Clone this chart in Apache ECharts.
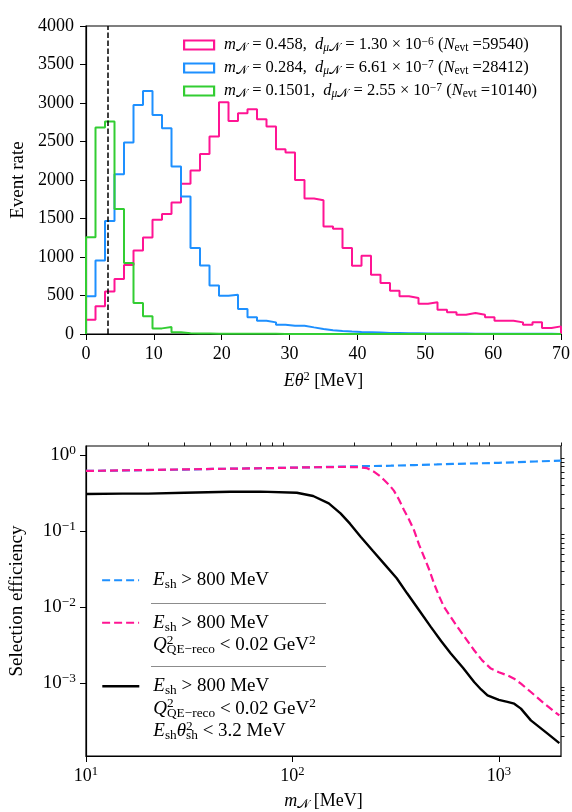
<!DOCTYPE html>
<html>
<head>
<meta charset="utf-8">
<script src="https://cdn.jsdelivr.net/npm/echarts@6/dist/echarts.min.js"></script>
<style>html,body{margin:0;padding:0;background:#fff}#c{width:572px;height:812px}</style>
</head>
<body>
<div id="c"></div>
<script>
// ---------- top panel: step histograms of E*theta^2 ----------
const BIN_WIDTH = 1.4;            // MeV
const CUT_E_THETA2 = 3.2;         // MeV, dashed vertical line
const histNames = ['m0458', 'm0284', 'm01501'];
const histColors = ['#ff1493', '#1e90ff', '#32cd32'];
const histMass = ['0.458', '0.284', '0.1501'];
const histDMant = ['1.30', '6.61', '2.55'];
const histDExp = ['−6', '−7', '−7'];
const histNevt = ['59540', '28412', '10140'];

const pinkCounts = [186, 359, 553, 715, 895, 1085, 1254, 1483, 1557, 1708,
  1950, 2123, 2339, 2564, 3009, 2767, 2867, 2919, 2789, 2694,
  2400, 2357, 2000, 1760, 1738, 1397, 1366, 1116, 886, 1016,
  770, 662, 562, 489, 467, 393, 411, 316, 281, 251,
  272, 251, 216, 173, 173, 151, 121, 151, 78, 99];
const blueCounts = [489, 956, 1466, 2076, 2486, 2975, 3157, 2845, 2672, 2175,
  1786, 1116, 891, 631, 497, 510, 324, 216, 173, 151,
  121, 108, 108, 86, 65, 50, 40, 32, 26, 22,
  18, 14, 12, 10, 9, 8, 7, 6, 5, 5,
  4, 4, 3, 3, 3, 2, 2, 2, 2, 1];
const greenCounts = [1258, 2681, 2759, 1622, 921, 402, 229, 73, 91, 22,
  9, 6, 5, 4, 3, 3, 2, 2, 2, 2,
  1, 1, 1, 1, 1, 1, 1, 1, 1, 1,
  1, 0, 0, 0, 0, 0, 0, 0, 0, 0,
  0, 0, 0, 0, 0, 0, 0, 0, 0, 0];
const histCounts = [pinkCounts, blueCounts, greenCounts];

const topXMin = 0, topXMax = 70, topXInterval = 10;
const topYMin = 0, topYMax = 4000, topYInterval = 500;

// ---------- bottom panel: selection efficiency vs mass ----------
const effNames = ['cutE', 'cutEQ', 'cutEQT'];
const effColors = ['#1e90ff', '#ff1493', '#000000'];
const massBlue = [10, 15, 20, 30, 41, 60, 80, 126, 207, 300, 388, 500, 600, 818, 1000, 1200, 1500, 2000];
const effBlue = [0.616, 0.625, 0.632, 0.643, 0.654, 0.665, 0.672, 0.689, 0.71, 0.722, 0.735, 0.75, 0.762, 0.777, 0.788, 0.80, 0.82, 0.842];
const massPink = [10, 20, 41, 80, 126, 180, 210, 230, 248, 265, 278, 295, 310, 328, 347, 368, 388, 410, 434, 460, 485, 512, 542, 585, 630, 690, 759, 830, 915, 1000, 1101, 1186, 1279, 1429, 1650, 1963];
const effPink = [0.616, 0.635, 0.654, 0.672, 0.689, 0.695, 0.69, 0.67, 0.603, 0.53, 0.469, 0.40, 0.34, 0.26, 0.189, 0.14, 0.103, 0.067, 0.0459, 0.031, 0.0205, 0.0142, 0.0101, 0.0074, 0.0055, 0.0039, 0.00272, 0.0020, 0.00156, 0.0014, 0.00127, 0.00115, 0.00099, 0.000769, 0.00055, 0.000379];
const massBlack = [10, 15, 20, 30, 50, 70, 105, 126, 150, 171, 190, 214, 245, 277, 320, 360, 410, 468, 525, 585, 670, 759, 820, 881, 1000, 1100, 1187, 1279, 1429, 1722, 1963];
const effBlack = [0.307, 0.31, 0.31, 0.318, 0.329, 0.33, 0.319, 0.289, 0.231, 0.171, 0.125, 0.0841, 0.055, 0.0376, 0.024, 0.0151, 0.0092, 0.00551, 0.0036, 0.00246, 0.0016, 0.00104, 0.00083, 0.000695, 0.000605, 0.00057, 0.00054, 0.000465, 0.000326, 0.000218, 0.000164];
const effMass = [massBlue, massPink, massBlack];
const effVals = [effBlue, effPink, effBlack];

const botXMin = 10, botXMax = 2000;
const botYMin = 1.11e-4, botYMax = 1.31;
const botXMajor = [10, 100, 1000];
const botXMinor = [20, 30, 40, 50, 60, 70, 80, 90, 200, 300, 400, 500, 600, 700, 800, 900, 2000];
const botYMajor = [0.001, 0.01, 0.1, 1];
const botYMinor = [2e-4, 3e-4, 4e-4, 5e-4, 6e-4, 7e-4, 8e-4, 9e-4,
  2e-3, 3e-3, 4e-3, 5e-3, 6e-3, 7e-3, 8e-3, 9e-3,
  2e-2, 3e-2, 4e-2, 5e-2, 6e-2, 7e-2, 8e-2, 9e-2,
  0.2, 0.3, 0.4, 0.5, 0.6, 0.7, 0.8, 0.9];

// ---------- helpers ----------
const F = 'Liberation Serif';
const CALN = '𝒩';
function richSet(size, lh) {
  const sub = Math.round(size * 0.7 * 10) / 10;
  return {
    i: {fontFamily: F, fontStyle: 'italic', fontSize: size, lineHeight: lh},
    n: {fontFamily: F, fontSize: size, lineHeight: lh},
    s: {fontFamily: F, fontSize: sub, lineHeight: lh, verticalAlign: 'bottom'},
    si: {fontFamily: F, fontStyle: 'italic', fontSize: sub, lineHeight: lh, verticalAlign: 'bottom'},
    p: {fontFamily: F, fontSize: sub, lineHeight: lh, verticalAlign: 'top'},
    pz: {fontFamily: F, fontSize: sub, lineHeight: lh, verticalAlign: 'top', width: 0}
  };
}
function stepData(counts) {
  const d = [[topXMin, 0]];
  counts.forEach((v, i) => d.push([topXMin + i * BIN_WIDTH, v]));
  d.push([topXMin + counts.length * BIN_WIDTH, 0]);
  return d;
}
function pairs(xs, ys) { return xs.map((x, i) => [x, ys[i]]); }
function sci(v) {
  const e = Math.round(Math.log10(v));
  return '{n|10}{p|' + String(e).replace('-', '−') + '}';
}

const topLegendText = {};
histNames.forEach((n, i) => {
  topLegendText[n] = '{i|m}{s|' + CALN + '} = ' + histMass[i] + ',  {i|d}{si|μ}{s|' + CALN + '} = ' +
    histDMant[i] + ' × 10{p|' + histDExp[i] + '} ({i|N}{s|evt} =' + histNevt[i] + ')';
});
const line1 = '{i|E}{s|sh} > 800 MeV';
const line2 = '{i|Q}{pz|2}{s|QE−reco} < 0.02 GeV{p|2}';
const line3 = '{i|E}{s|sh}{i|θ}{pz|2}{s|sh} < 3.2 MeV';
const botLegendText = {
  cutE: line1,
  cutEQ: line1 + '\n' + line2,
  cutEQT: line1 + '\n' + line2 + '\n' + line3
};

const axisCommon = {
  axisLine: {show: true, lineStyle: {color: '#000', width: 1.2}},
  axisTick: {show: true, inside: false, length: 6, lineStyle: {color: '#000', width: 1}},
  splitLine: {show: false},
  minorTick: {show: false},
  minorSplitLine: {show: false}
};
const tickLabel = {color: '#000', fontFamily: F, fontSize: 18};
const plain = v => String(v);

const BOT_LH = 22.5;
const BOT_FS = 19;
const botLegendTops = [569, 589, 630];

const option = {
  animation: false,
  backgroundColor: '#fff',
  textStyle: {fontFamily: F},
  grid: [
    {left: 86, top: 26, width: 475, height: 308, show: true, borderColor: '#000', borderWidth: 1.2,
     backgroundColor: 'transparent', containLabel: false, outerBoundsMode: 'none'},
    {left: 86, top: 446, width: 475, height: 310, show: true, borderColor: '#000', borderWidth: 1.2,
     backgroundColor: 'transparent', containLabel: false, outerBoundsMode: 'none'}
  ],
  xAxis: [
    Object.assign({}, axisCommon, {
      gridIndex: 0, type: 'value', min: topXMin, max: topXMax, interval: topXInterval,
      axisLabel: Object.assign({margin: 11, formatter: plain}, tickLabel),
      name: '{i|Eθ}{p|2} [MeV]', nameLocation: 'middle', nameGap: 36,
      nameTextStyle: {color: '#000', fontFamily: F, fontSize: 18, rich: richSet(18, 22)}
    }),
    Object.assign({}, axisCommon, {
      gridIndex: 1, type: 'log', logBase: 10, min: botXMin, max: botXMax,
      axisTick: {show: true, inside: false, length: 6, lineStyle: {color: '#000', width: 1}, customValues: botXMajor},
      axisLabel: Object.assign({margin: 9, customValues: botXMajor, formatter: sci, rich: richSet(18, 22)}, tickLabel),
      name: '{i|m}{s|' + CALN + '} [MeV]', nameLocation: 'middle', nameGap: 35,
      nameTextStyle: {color: '#000', fontFamily: F, fontSize: 18, rich: richSet(18, 20)}
    }),
    {
      gridIndex: 1, type: 'log', logBase: 10, min: botXMin, max: botXMax,
      axisLine: {show: false}, splitLine: {show: false}, axisLabel: {show: false},
      axisTick: {show: true, inside: false, length: 3.5, lineStyle: {color: '#000', width: 0.9}, customValues: botXMinor}
    }
  ],
  yAxis: [
    Object.assign({}, axisCommon, {
      gridIndex: 0, type: 'value', min: topYMin, max: topYMax, interval: topYInterval,
      axisLabel: Object.assign({margin: 12, formatter: plain}, tickLabel),
      name: 'Event rate', nameLocation: 'middle', nameGap: 56,
      nameTextStyle: {color: '#000', fontFamily: F, fontSize: 19}
    }),
    Object.assign({}, axisCommon, {
      gridIndex: 1, type: 'log', logBase: 10, min: botYMin, max: botYMax,
      axisTick: {show: true, inside: false, length: 6, lineStyle: {color: '#000', width: 1}, customValues: botYMajor},
      axisLabel: Object.assign({margin: 10, customValues: botYMajor, formatter: sci, rich: richSet(19, 22)}, tickLabel),
      name: 'Selection efficiency', nameLocation: 'middle', nameGap: 59,
      nameTextStyle: {color: '#000', fontFamily: F, fontSize: 19}
    }),
    {
      gridIndex: 1, type: 'log', logBase: 10, min: botYMin, max: botYMax,
      axisLine: {show: false}, splitLine: {show: false}, axisLabel: {show: false},
      axisTick: {show: true, inside: false, length: 3.5, lineStyle: {color: '#000', width: 0.9}, customValues: botYMinor}
    }
  ],
  legend: [
    {
      left: 183, top: 36, orient: 'vertical', padding: 0, itemGap: 5,
      itemWidth: 30, itemHeight: 9, selectedMode: false,
      data: histNames.map((n, i) => ({
        name: n, icon: 'rect',
        itemStyle: {color: 'rgba(0,0,0,0)', borderColor: histColors[i], borderWidth: 2.2}
      })),
      formatter: n => topLegendText[n],
      textStyle: {color: '#000', fontFamily: F, fontSize: 16.5, lineHeight: 18, padding: [0, 0, 0, 5], rich: richSet(16.5, 18)}
    }
  ].concat(effNames.map((n, i) => ({
    left: 101, top: botLegendTops[i], orient: 'vertical', padding: 0,
    itemWidth: 37, itemHeight: 14, selectedMode: false,
    data: [{name: n, itemStyle: {opacity: 0}}],
    lineStyle: {width: i === 2 ? 2.6 : 2.2},
    formatter: nm => botLegendText[nm],
    textStyle: {color: '#000', fontFamily: F, fontSize: BOT_FS, lineHeight: BOT_LH,
      padding: [i * BOT_LH, 0, 0, 9], rich: richSet(BOT_FS, BOT_LH)}
  }))),
  graphic: [
    {type: 'line', silent: true, shape: {x1: 151, y1: 603.5, x2: 326, y2: 603.5}, style: {stroke: '#8c8c8c', lineWidth: 1}},
    {type: 'line', silent: true, shape: {x1: 151, y1: 666.5, x2: 326, y2: 666.5}, style: {stroke: '#8c8c8c', lineWidth: 1}}
  ],
  series: histNames.map((n, i) => {
    const s = {
      name: n, type: 'line', xAxisIndex: 0, yAxisIndex: 0, step: 'end',
      data: stepData(histCounts[i]), symbol: 'none', z: 2 + i,
      lineStyle: {color: histColors[i], width: 2}, itemStyle: {color: histColors[i]}
    };
    if (i === histNames.length - 1) {
      s.markLine = {
        silent: true, symbol: 'none', label: {show: false}, z: 10,
        lineStyle: {color: '#000', type: [5.5, 2.5], width: 1.5},
        emphasis: {disabled: true},
        data: [{xAxis: CUT_E_THETA2}]
      };
    }
    return s;
  }).concat(effNames.map((n, i) => ({
    name: n, type: 'line', xAxisIndex: 1, yAxisIndex: 1,
    data: pairs(effMass[i], effVals[i]), symbol: 'none', z: 2 + i,
    lineStyle: {color: effColors[i], width: i === 2 ? 2.4 : 2.2, type: i === 2 ? 'solid' : [8, 4]},
    itemStyle: {color: effColors[i]}
  })))
};

const chart = echarts.init(document.getElementById('c'), null, {renderer: 'canvas'});
chart.setOption(option);
</script>
</body>
</html>
